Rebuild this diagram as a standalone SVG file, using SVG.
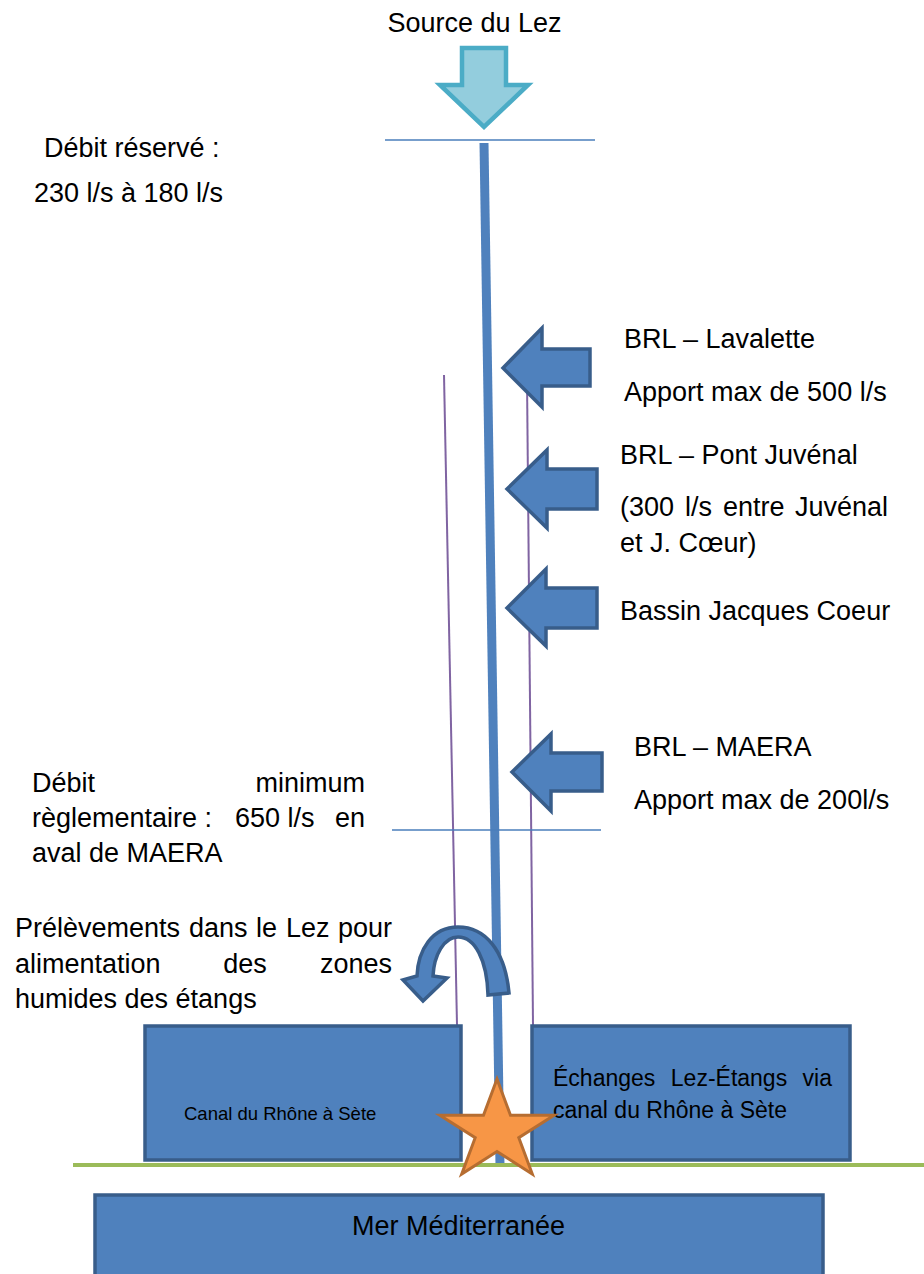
<svg xmlns="http://www.w3.org/2000/svg" width="924" height="1274" viewBox="0 0 924 1274">
  <style>
    text { font-family: "Liberation Sans", Arial, sans-serif; fill: #000; }
    .t { font-size: 27px; }
    .tb { font-size: 23px; }
    .ts { font-size: 18.5px; }
    .level { stroke: #4a7ebb; stroke-width: 1.5; fill: none; }
    .bank { stroke: #8064a2; stroke-width: 2; fill: none; }
    .river { stroke: #4f81bd; stroke-width: 9; fill: none; }
    .inflow { fill: #4f81bd; stroke: #385d8a; stroke-width: 3.5; stroke-linejoin: miter; }
    .block { fill: #4f81bd; stroke: #385d8a; stroke-width: 3.5; }
  </style>

  <!-- connectors: river course, banks and reference levels -->
  <g id="connectors">
    <line class="level" x1="385" y1="140" x2="595" y2="140"/>
    <line class="bank" x1="444" y1="375" x2="457" y2="1025"/>
    <line class="bank" x1="527" y1="378" x2="533" y2="1025"/>
    <line class="river" x1="484" y1="143" x2="500" y2="1166"/>
    <line class="level" x1="392" y1="830" x2="601" y2="830"/>
    <line x1="73" y1="1165" x2="924" y2="1165" stroke="#9bbb59" stroke-width="4"/>
  </g>

  <!-- spring -->
  <g id="source">
    <text class="t" x="474.5" y="32" text-anchor="middle">Source du Lez</text>
    <polygon points="462,48 506,48 506,85 528,85 484,127 440,85 462,85" fill="#93cddd" stroke="#4bacc6" stroke-width="4.5"/>
  </g>

  <g id="debit-reserve">
    <text class="t" x="44" y="157">Débit réservé :</text>
    <text class="t" x="34" y="202">230 l/s à 180 l/s</text>
  </g>

  <!-- inflows -->
  <g id="lavalette">
    <polygon class="inflow" points="503,368 542,328 542,349 590,349 590,386 542,386 542,407"/>
    <text class="t" x="624" y="348">BRL – Lavalette</text>
    <text class="t" x="624" y="401">Apport max de 500 l/s</text>
  </g>

  <g id="pont-juvenal">
    <polygon class="inflow" points="507,489 547,450 547,469 597,469 597,509 547,509 547,528"/>
    <text class="t" x="620" y="464">BRL – Pont Juvénal</text>
    <text class="t" y="516"><tspan x="620">(300</tspan><tspan x="685">l/s</tspan><tspan x="723">entre</tspan><tspan x="888" text-anchor="end">Juvénal</tspan></text>
    <text class="t" x="620" y="552">et J. Cœur)</text>
  </g>

  <g id="jacques-coeur">
    <polygon class="inflow" points="507,608 546,569 546,588 597,588 597,628 546,628 546,646"/>
    <text class="t" x="620" y="620">Bassin Jacques Coeur</text>
  </g>

  <g id="maera">
    <polygon class="inflow" points="512,772 551,734 551,753 602,753 602,791 551,791 551,811"/>
    <text class="t" x="634" y="756">BRL – MAERA</text>
    <text class="t" x="634" y="809">Apport max de 200l/s</text>
  </g>

  <g id="debit-minimum">
    <text class="t" y="792"><tspan x="32">Débit</tspan><tspan x="365" text-anchor="end">minimum</tspan></text>
    <text class="t" y="827"><tspan x="32">règlementaire :</tspan><tspan x="235">650 l/s</tspan><tspan x="365" text-anchor="end">en</tspan></text>
    <text class="t" x="32" y="862">aval de MAERA</text>
  </g>

  <!-- withdrawal towards the wetlands -->
  <g id="prelevements">
    <path class="inflow" d="M 509 993 C 505 950 485 927 458 927 C 432 927 418 950 417 976 L 403 980 L 423 1001 L 447 978 L 433 976 C 434 955 444 937 458 937 C 475 937 487 960 488 995 Z"/>
    <text class="t" y="937"><tspan x="15">Prélèvements</tspan><tspan x="189">dans</tspan><tspan x="256">le</tspan><tspan x="286">Lez</tspan><tspan x="392" text-anchor="end">pour</tspan></text>
    <text class="t" y="973"><tspan x="15">alimentation</tspan><tspan x="245" text-anchor="middle">des</tspan><tspan x="392" text-anchor="end">zones</tspan></text>
    <text class="t" x="15" y="1008">humides des étangs</text>
  </g>

  <g id="canal-ouest">
    <rect class="block" x="145" y="1026" width="316" height="134"/>
    <text class="ts" x="184" y="1120">Canal du Rhône à Sète</text>
  </g>

  <g id="canal-est">
    <rect class="block" x="532" y="1026" width="318" height="134"/>
    <text class="tb" y="1086"><tspan x="553">Échanges</tspan><tspan x="729" text-anchor="middle">Lez-Étangs</tspan><tspan x="832" text-anchor="end">via</tspan></text>
    <text class="tb" x="553" y="1118">canal du Rhône à Sète</text>
  </g>

  <!-- river mouth -->
  <g id="embouchure">
    <polygon points="497,1079 510.5,1115.3 554.1,1115.3 518.8,1137.7 532.3,1174 497,1151.5 461.7,1174 475.2,1137.7 439.9,1115.3 483.5,1115.3" fill="#f79646" stroke="#b66d31" stroke-width="3" stroke-linejoin="miter"/>
  </g>

  <g id="mer">
    <rect class="block" x="95" y="1195" width="728" height="100"/>
    <text class="t" x="458.5" y="1235" text-anchor="middle">Mer Méditerranée</text>
  </g>
</svg>
